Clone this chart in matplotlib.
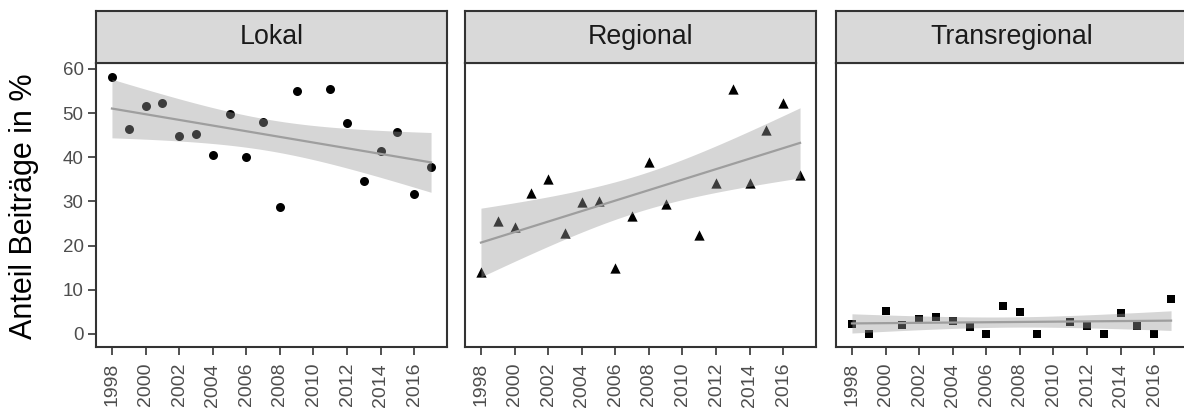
import numpy as np
import matplotlib
matplotlib.use("Agg")
import matplotlib.pyplot as plt

plt.rcParams['font.family'] = ['Liberation Sans', 'DejaVu Sans']

# ---- data ----
years = [1998, 1999, 2000, 2001, 2002, 2003, 2004, 2005, 2006, 2007,
         2008, 2009, 2011, 2012, 2013, 2014, 2015, 2016, 2017]
panels = ["Lokal", "Regional", "Transregional"]
lokal = [58.1, 46.4, 51.7, 52.2, 44.9, 45.2, 40.6, 49.9, 40.0, 48.1,
         28.7, 54.9, 55.5, 47.7, 34.6, 41.5, 45.8, 31.8, 37.9]
regional = [14.1, 25.6, 24.3, 32.0, 35.1, 22.8, 29.8, 30.2, 15.0, 26.7,
            38.9, 29.5, 22.3, 34.2, 55.4, 34.2, 46.1, 52.4, 36.0]
transregional = [2.2, 0.0, 5.1, 2.0, 3.4, 3.9, 2.9, 1.5, 0.0, 6.3,
                 4.9, 0.0, 2.7, 1.8, 0.0, 4.8, 1.8, 0.0, 8.0]
series = [lokal, regional, transregional]
markers = ["o", "^", "s"]
marker_sizes = [42, 55, 38]
xticks = list(range(1998, 2017, 2))
yticks = [0, 10, 20, 30, 40, 50, 60]
ylabel = "Anteil Beiträge in %"
T_CRIT = 2.1098  # t quantile 0.975, df = 17

W, H = 1184, 409
fig = plt.figure(figsize=(W / 100, H / 100), dpi=100)

panel_left_px = [96, 465, 836]
panel_w_px = 351
panel_top_px, panel_bot_px = 63, 347
strip_top_px = 11

border_col = "#333333"

for i, (name, vals) in enumerate(zip(panels, series)):
    l = panel_left_px[i] / W
    b = 1 - panel_bot_px / H
    w = panel_w_px / W
    h = (panel_bot_px - panel_top_px) / H
    ax = fig.add_axes([l, b, w, h])
    x = np.array(years, dtype=float)
    y = np.array(vals, dtype=float)

    ax.scatter(x, y, marker=markers[i], s=marker_sizes[i], color="black",
               linewidths=0, zorder=2)

    # linear fit with 95% CI (geom_smooth(method='lm'))
    n = len(x)
    coef = np.polyfit(x, y, 1)
    resid = y - np.polyval(coef, x)
    s = np.sqrt(np.sum(resid ** 2) / (n - 2))
    xg = np.linspace(x.min(), x.max(), 100)
    yg = np.polyval(coef, xg)
    se = s * np.sqrt(1 / n + (xg - x.mean()) ** 2 / np.sum((x - x.mean()) ** 2))
    ax.fill_between(xg, yg - T_CRIT * se, yg + T_CRIT * se, color="#999999",
                    alpha=0.4, linewidth=0, zorder=3)
    ax.plot(xg, yg, color="#9E9E9E", linewidth=1.6, zorder=4)

    ax.set_xlim(1997.05, 2017.95)
    ax.set_ylim(-2.95, 61.35)
    ax.set_xticks(xticks)
    ax.set_xticklabels([str(t) for t in xticks], rotation=90, fontsize=14,
                       color="#4D4D4D")
    ax.set_yticks(yticks)
    if i == 0:
        ax.set_yticklabels([str(t) for t in yticks], fontsize=13.5, color="#4D4D4D")
    else:
        ax.tick_params(axis="y", left=False, labelleft=False)
    ax.tick_params(axis="both", length=6, width=1.2, color=border_col)
    ax.tick_params(axis="x", pad=5.5)
    ax.tick_params(axis="y", pad=3)
    for sp in ax.spines.values():
        sp.set_color(border_col)
        sp.set_linewidth(1.5)

    # strip
    sb = 1 - panel_top_px / H
    sh = (panel_top_px - strip_top_px) / H
    sax = fig.add_axes([l, sb, w, sh])
    sax.set_facecolor("#D9D9D9")
    sax.set_xticks([])
    sax.set_yticks([])
    for sp in sax.spines.values():
        sp.set_color(border_col)
        sp.set_linewidth(1.5)
    sax.text(0.5, 0.5, name, transform=sax.transAxes, ha="center", va="center",
             fontsize=19.3, color="#1A1A1A")

fig.text(24 / W, 1 - 206 / H, ylabel, rotation=90, ha="center", va="center",
         fontsize=22, color="black")

fig.savefig("out.png", dpi=100)
